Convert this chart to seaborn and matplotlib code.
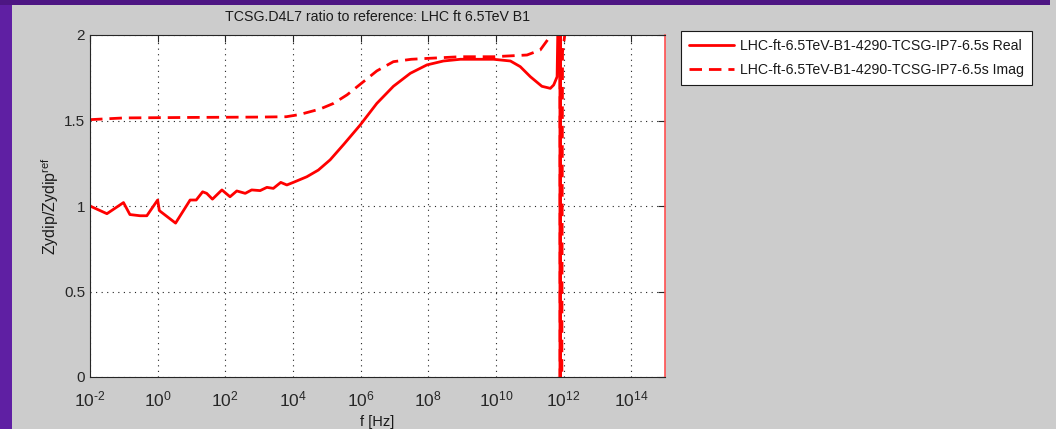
import numpy as np
import pandas as pd
import matplotlib
matplotlib.use("Agg")
import matplotlib.pyplot as plt
from matplotlib.patches import Rectangle
import seaborn as sns

# Impedance ratio (real and imaginary parts) versus frequency, log10(f / Hz)
real_log_f = [-2.0, -1.5, -1.01, -0.82, -0.52, -0.32, 0.0, 0.05, 0.53, 0.96, 1.14,
              1.33, 1.45, 1.62, 1.9, 2.14, 2.34, 2.59, 2.78, 3.03, 3.23, 3.42, 3.64,
              3.82, 4.01, 4.41, 4.75, 5.1, 5.5, 5.99, 6.48, 6.97, 7.47, 7.96, 8.45,
              8.95, 9.93, 10.43, 10.72, 11.02, 11.36, 11.61, 11.71, 11.81, 11.86,
              11.89, 11.90, 11.92, 12.2, 15.0]
real_ratio = [1.00, 0.955, 1.02, 0.95, 0.943, 0.943, 1.035, 0.973, 0.90, 1.035, 1.035,
              1.083, 1.074, 1.04, 1.094, 1.054, 1.088, 1.074, 1.094, 1.09, 1.109, 1.103,
              1.138, 1.123, 1.138, 1.171, 1.21, 1.27, 1.36, 1.474, 1.60, 1.70, 1.776,
              1.825, 1.848, 1.858, 1.858, 1.848, 1.815, 1.756, 1.70, 1.688, 1.708,
              1.756, 2.4, 8.0, -8.0, 6.0, 2.6, 2.3]

imag_log_f = [-2.0, -1.0, 1.0, 3.0, 3.8, 4.2, 4.8, 5.2, 5.6, 5.99, 6.48, 6.97, 7.5,
              7.96, 8.95, 9.93, 10.92, 11.31, 11.56, 11.66, 11.8, 11.89, 11.905,
              11.94, 11.95, 11.97, 12.05, 15.0]
imag_ratio = [1.505, 1.515, 1.518, 1.52, 1.522, 1.535, 1.567, 1.60, 1.65, 1.712, 1.79,
              1.844, 1.858, 1.863, 1.873, 1.873, 1.883, 1.912, 1.98, 2.1, 3.5, 9.0,
              -9.0, -2.0, 0.0, 1.9, 2.02, 2.1]

label_real = "LHC-ft-6.5TeV-B1-4290-TCSG-IP7-6.5s Real"
label_imag = "LHC-ft-6.5TeV-B1-4290-TCSG-IP7-6.5s Imag"

x_tick_exp = [-2, 0, 2, 4, 6, 8, 10, 12, 14]
y_ticks = [0, 0.5, 1, 1.5, 2]
y_tick_labels = ["0", "0.5", "1", "1.5", "2"]

df_real = pd.DataFrame({"f": 10.0 ** np.array(real_log_f), "ratio": real_ratio})
df_imag = pd.DataFrame({"f": 10.0 ** np.array(imag_log_f), "ratio": imag_ratio})

sns.set_theme(style="white")
plt.rcParams["font.family"] = ["Liberation Sans", "DejaVu Sans"]
plt.rcParams["mathtext.fontset"] = "custom"
plt.rcParams["mathtext.rm"] = "Liberation Sans"
plt.rcParams["mathtext.it"] = "Liberation Sans"
plt.rcParams["mathtext.default"] = "regular"
plt.rcParams["axes.unicode_minus"] = False

bg = "#cccccc"
fig = plt.figure(figsize=(10.56, 4.29), dpi=100, facecolor=bg)

# window frame strips
fig.patches.append(Rectangle((0, 0), 12 / 1056, 1, transform=fig.transFigure,
                             facecolor="#5f1fa3", edgecolor="none", zorder=0))
fig.patches.append(Rectangle((0, 1 - 5 / 429), 1050 / 1056, 5 / 429, transform=fig.transFigure,
                             facecolor="#4d1683", edgecolor="none", zorder=0))

ax = fig.add_axes([90 / 1056, 1 - 377 / 429, 575 / 1056, 342 / 429])
ax.set_facecolor("white")

sns.lineplot(data=df_real, x="f", y="ratio", ax=ax, color="red", lw=2,
             sort=False, estimator=None, label=label_real)
sns.lineplot(data=df_imag, x="f", y="ratio", ax=ax, color="red", lw=2,
             sort=False, estimator=None, label=label_imag, dashes=False)
ax.lines[1].set_dashes((4.5, 2.5))

ax.set_xscale("log")
ax.set_xlim(1e-2, 1e15)
ax.set_ylim(0, 2)
ax.set_xticks([10.0 ** e for e in x_tick_exp])
ax.set_xticklabels([f"$10^{{\\text{{{e}}}}}$" for e in x_tick_exp])
ax.xaxis.set_minor_locator(matplotlib.ticker.NullLocator())
ax.set_yticks(y_ticks)
ax.set_yticklabels(y_tick_labels)

ax.grid(True, which="major", color="#222222", linestyle=(0, (1, 4)), linewidth=0.8)
ax.tick_params(axis="both", which="major", direction="in", length=5, width=0.8,
               colors="#262626", labelsize=11, top=True, right=True)
ax.tick_params(axis="x", pad=9, labelsize=12.5)
for side in ["left", "bottom", "top"]:
    ax.spines[side].set_color("#262626")
    ax.spines[side].set_linewidth(0.8)
ax.spines["right"].set_color("#ff5050")
ax.spines["right"].set_linewidth(1.2)

ax.set_title("TCSG.D4L7 ratio to reference: LHC ft 6.5TeV B1", fontsize=10.2,
             color="#1a1a1a", pad=10)
ax.set_xlabel("f [Hz]", fontsize=10.5, color="#1a1a1a", labelpad=4)
ax.set_ylabel("Zydip/Zydip$^{ref}$", fontsize=11.5, color="#1a1a1a")
ax.yaxis.set_label_coords(-0.05, 0.5)

ax.get_legend().remove()
handles, labels = ax.get_legend_handles_labels()
leg = fig.legend(handles, labels, loc="upper left",
                 bbox_to_anchor=(681 / 1056, 1 - 31 / 429), fontsize=10.2,
                 frameon=True, fancybox=False, framealpha=1, edgecolor="#1a1a1a",
                 handlelength=3.2, handletextpad=0.4, borderpad=0.55, labelspacing=0.75,
                 borderaxespad=0)
leg.get_frame().set_linewidth(0.8)
for t in leg.get_texts():
    t.set_color("#1a1a1a")

fig.savefig("out.png", dpi=100, facecolor=bg)
